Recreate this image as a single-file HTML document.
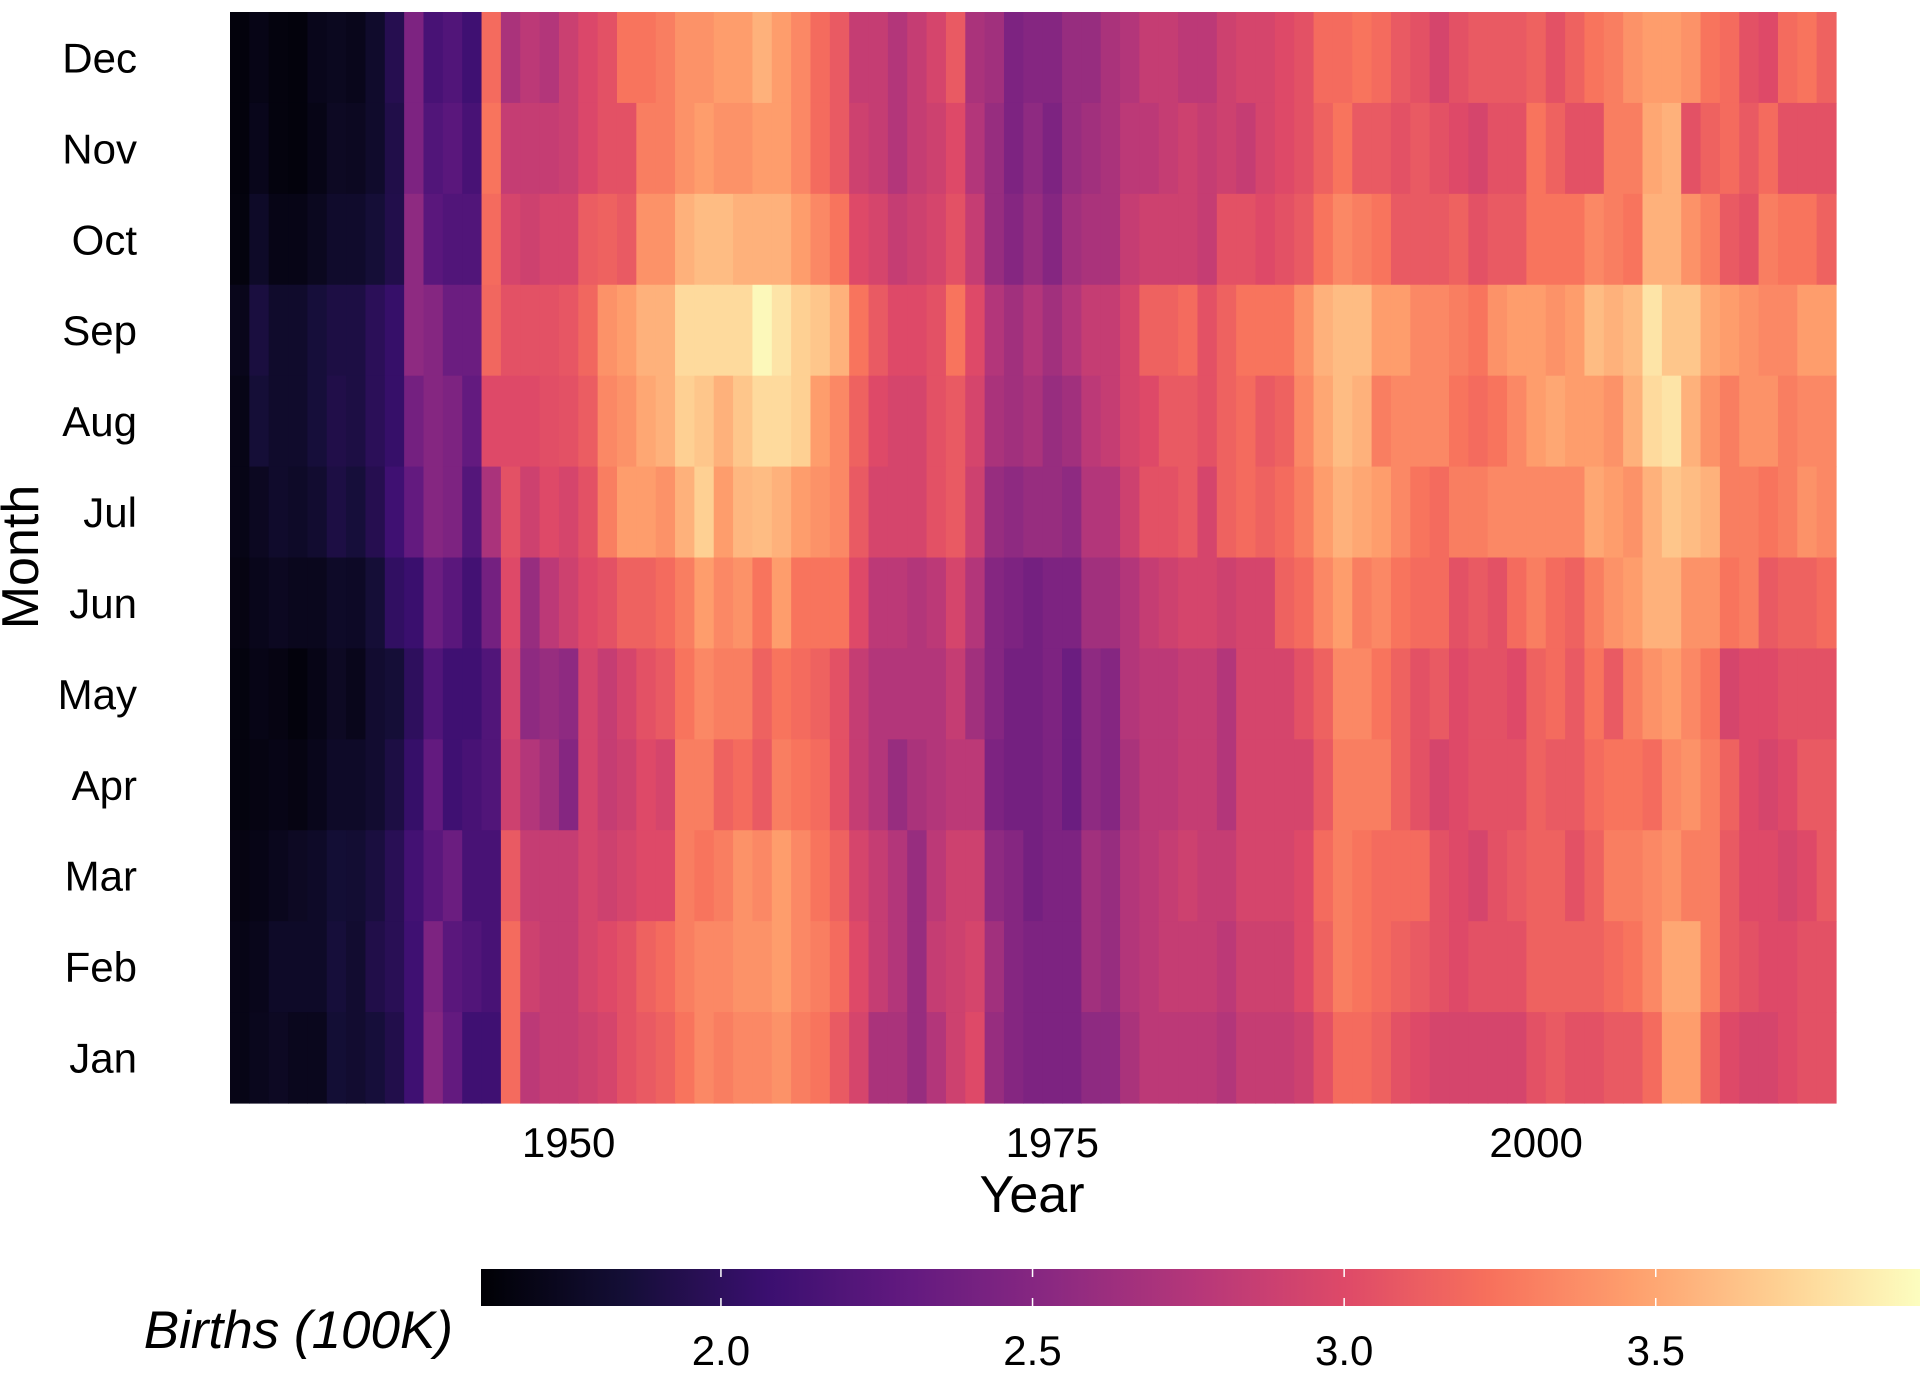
<!DOCTYPE html>
<html><head><meta charset="utf-8">
<style>
html,body{margin:0;padding:0;background:#fff;}
svg{display:block;font-family:"Liberation Sans",Arial,sans-serif;}
</style></head>
<body>
<svg id="chart" width="1920" height="1392" viewBox="0 0 1920 1392">
  <g id="tiles"></g>
  <g id="yticks"></g>
  <g id="xticks"></g>
  <text x="1032" y="1212" font-size="52" text-anchor="middle">Year</text>
  <text transform="translate(38,557) rotate(-90)" font-size="52" text-anchor="middle">Month</text>
  <g>
    <defs><linearGradient id="grad" x1="0" x2="1" y1="0" y2="0"></linearGradient></defs>
    <rect x="481" y="1269" width="1439" height="37" fill="url(#grad)"></rect>
    <g id="cticks"></g>
    <text x="453" y="1348" font-size="53" font-style="italic" text-anchor="end">Births (100K)</text>
  </g>
</svg>
<script>
// Month rows, top to bottom
const monthLabels = ['Dec','Nov','Oct','Sep','Aug','Jul','Jun','May','Apr','Mar','Feb','Jan'];
const firstYear = 1933;
const xTickLabels = [1950, 1975, 2000];
const legendTicks = [2.0, 2.5, 3.0, 3.5];
const legendTickLabels = ['2.0','2.5','3.0','3.5'];
// Births (100K) per year; each inner list in month order Dec..Jan
const births = [
[1.65,1.65,1.66,1.72,1.7,1.7,1.68,1.66,1.66,1.68,1.7,1.7],
[1.7,1.72,1.78,1.88,1.85,1.75,1.72,1.7,1.68,1.7,1.72,1.73],
[1.66,1.66,1.7,1.8,1.8,1.8,1.75,1.68,1.7,1.73,1.78,1.76],
[1.65,1.65,1.7,1.8,1.8,1.78,1.73,1.65,1.68,1.76,1.78,1.73],
[1.72,1.7,1.74,1.86,1.86,1.82,1.73,1.7,1.72,1.78,1.78,1.73],
[1.74,1.76,1.8,1.9,1.92,1.9,1.78,1.76,1.78,1.84,1.86,1.84],
[1.72,1.75,1.8,1.9,1.9,1.86,1.77,1.72,1.78,1.83,1.82,1.82],
[1.8,1.8,1.85,1.98,1.98,1.95,1.85,1.82,1.82,1.88,1.92,1.86],
[1.95,1.92,1.93,2.05,2.05,2.1,2.02,1.85,1.9,1.97,1.97,1.93],
[2.45,2.45,2.55,2.55,2.4,2.3,2.07,2.0,2.05,2.12,2.1,2.1],
[2.15,2.2,2.25,2.5,2.5,2.5,2.35,2.2,2.3,2.25,2.45,2.5],
[2.2,2.25,2.2,2.35,2.45,2.45,2.25,2.1,2.1,2.35,2.25,2.3],
[2.1,2.15,2.2,2.35,2.3,2.22,2.12,2.1,2.15,2.15,2.2,2.1],
[3.2,3.25,3.2,3.18,3.0,2.7,2.4,2.2,2.2,2.15,2.15,2.1],
[2.7,2.85,2.95,3.05,3.0,3.05,3.0,2.95,2.9,3.1,3.2,3.2],
[2.8,2.85,2.9,3.05,3.0,2.9,2.6,2.55,2.75,2.85,2.9,2.8],
[2.75,2.85,2.95,3.05,3.03,3.0,2.8,2.6,2.65,2.85,2.85,2.85],
[2.88,2.88,2.95,3.08,3.05,2.95,2.9,2.55,2.5,2.85,2.85,2.85],
[2.98,2.98,3.12,3.18,3.12,3.05,3.0,2.95,2.95,2.95,2.95,2.9],
[3.05,3.05,3.15,3.4,3.35,3.3,3.05,2.85,2.85,2.9,3.0,2.95],
[3.25,3.05,3.1,3.45,3.4,3.45,3.15,2.95,2.9,2.95,3.05,3.05],
[3.25,3.3,3.4,3.55,3.5,3.45,3.15,3.05,3.0,3.0,3.15,3.1],
[3.3,3.3,3.4,3.55,3.55,3.4,3.2,3.1,2.95,3.0,3.2,3.15],
[3.4,3.4,3.55,3.75,3.7,3.55,3.3,3.25,3.3,3.3,3.3,3.25],
[3.4,3.45,3.6,3.75,3.65,3.7,3.45,3.35,3.3,3.25,3.35,3.35],
[3.45,3.4,3.6,3.75,3.55,3.45,3.35,3.3,3.15,3.3,3.35,3.3],
[3.45,3.4,3.55,3.75,3.65,3.58,3.4,3.3,3.2,3.4,3.4,3.35],
[3.55,3.45,3.55,3.9,3.75,3.6,3.25,3.15,3.1,3.35,3.4,3.35],
[3.45,3.45,3.55,3.8,3.75,3.55,3.45,3.25,3.3,3.45,3.45,3.4],
[3.35,3.35,3.45,3.7,3.7,3.45,3.25,3.2,3.25,3.35,3.35,3.3],
[3.2,3.2,3.35,3.65,3.45,3.4,3.25,3.15,3.2,3.25,3.3,3.25],
[3.1,3.1,3.25,3.55,3.35,3.35,3.25,3.05,3.05,3.15,3.2,3.1],
[2.85,2.9,3.0,3.25,3.15,3.1,3.0,2.85,2.85,2.95,3.0,2.95],
[2.85,2.85,2.95,3.1,3.0,2.95,2.8,2.75,2.75,2.85,2.85,2.7],
[2.75,2.75,2.85,3.0,2.95,2.95,2.8,2.75,2.6,2.75,2.75,2.7],
[2.85,2.85,2.9,3.0,2.95,2.95,2.75,2.75,2.7,2.6,2.6,2.6],
[2.95,2.9,2.95,3.05,3.05,3.05,2.8,2.75,2.75,2.8,2.85,2.75],
[3.1,3.0,3.05,3.25,3.1,3.1,2.95,2.85,2.8,2.9,2.9,2.9],
[2.7,2.75,2.85,3.0,2.95,2.9,2.75,2.65,2.8,2.9,2.95,3.0],
[2.65,2.6,2.6,2.75,2.7,2.6,2.5,2.5,2.45,2.55,2.65,2.6],
[2.45,2.45,2.5,2.65,2.65,2.55,2.45,2.4,2.4,2.5,2.5,2.5],
[2.5,2.55,2.6,2.75,2.7,2.6,2.4,2.4,2.4,2.4,2.45,2.45],
[2.5,2.45,2.5,2.65,2.6,2.6,2.45,2.45,2.45,2.45,2.45,2.45],
[2.6,2.6,2.65,2.75,2.65,2.55,2.45,2.35,2.35,2.45,2.45,2.45],
[2.6,2.65,2.7,2.85,2.8,2.75,2.65,2.55,2.55,2.65,2.65,2.55],
[2.7,2.7,2.7,2.85,2.85,2.75,2.65,2.5,2.5,2.6,2.6,2.55],
[2.75,2.8,2.85,2.95,2.95,2.9,2.75,2.75,2.7,2.75,2.75,2.7],
[2.85,2.8,2.9,3.15,3.0,3.05,2.85,2.8,2.8,2.8,2.8,2.8],
[2.85,2.85,2.9,3.15,3.1,3.05,2.9,2.8,2.8,2.85,2.85,2.8],
[2.8,2.9,2.9,3.2,3.1,3.1,2.95,2.85,2.85,2.9,2.85,2.8],
[2.8,2.85,2.85,3.05,3.05,2.95,2.95,2.85,2.85,2.85,2.85,2.8],
[2.9,2.9,3.05,3.15,3.15,3.15,2.9,2.75,2.75,2.85,2.8,2.75],
[2.95,2.85,3.05,3.25,3.2,3.2,2.95,2.95,2.95,2.95,2.9,2.85],
[2.95,2.95,3.0,3.25,3.1,3.15,2.95,2.95,2.95,2.95,2.9,2.85],
[3.0,3.0,3.05,3.25,3.15,3.2,3.15,2.95,2.95,2.95,2.9,2.85],
[3.05,3.05,3.1,3.4,3.35,3.3,3.2,3.05,2.95,3.0,3.0,2.9],
[3.2,3.15,3.25,3.55,3.5,3.45,3.35,3.15,3.1,3.2,3.15,3.05],
[3.2,3.25,3.35,3.6,3.6,3.55,3.45,3.35,3.3,3.3,3.3,3.2],
[3.25,3.1,3.3,3.6,3.55,3.5,3.3,3.35,3.3,3.25,3.25,3.2],
[3.2,3.1,3.25,3.45,3.3,3.45,3.35,3.25,3.3,3.2,3.2,3.15],
[3.1,3.05,3.1,3.45,3.35,3.35,3.25,3.15,3.15,3.2,3.15,3.05],
[3.05,3.1,3.1,3.35,3.35,3.25,3.2,3.05,3.05,3.2,3.1,3.0],
[2.95,3.05,3.1,3.35,3.35,3.2,3.2,3.1,2.95,3.05,3.05,2.95],
[3.05,3.0,3.15,3.3,3.25,3.3,3.05,3.0,3.0,3.0,3.0,2.95],
[3.1,2.95,3.05,3.25,3.2,3.3,3.1,3.05,3.05,2.95,3.05,2.95],
[3.1,3.05,3.1,3.4,3.25,3.35,3.05,3.05,3.05,3.05,3.05,2.95],
[3.1,3.05,3.1,3.45,3.35,3.35,3.2,3.0,3.05,3.1,3.05,2.95],
[3.15,3.25,3.25,3.45,3.45,3.35,3.3,3.15,3.15,3.15,3.15,3.05],
[3.05,3.15,3.25,3.4,3.5,3.35,3.2,3.2,3.1,3.15,3.15,3.1],
[3.15,3.05,3.25,3.45,3.45,3.35,3.15,3.1,3.1,3.05,3.15,3.05],
[3.25,3.05,3.35,3.6,3.45,3.5,3.3,3.25,3.2,3.15,3.15,3.05],
[3.3,3.3,3.3,3.55,3.4,3.45,3.4,3.1,3.25,3.3,3.2,3.1],
[3.4,3.3,3.25,3.6,3.55,3.4,3.45,3.3,3.25,3.3,3.25,3.1],
[3.45,3.5,3.55,3.8,3.75,3.55,3.55,3.4,3.2,3.35,3.35,3.2],
[3.45,3.55,3.55,3.65,3.8,3.65,3.55,3.45,3.35,3.4,3.5,3.45],
[3.4,3.05,3.4,3.65,3.55,3.6,3.4,3.35,3.4,3.3,3.5,3.45],
[3.25,3.15,3.3,3.5,3.4,3.55,3.4,3.25,3.3,3.3,3.3,3.15],
[3.2,3.2,3.1,3.45,3.3,3.3,3.25,2.95,3.15,3.1,3.1,3.0],
[3.05,3.1,3.05,3.4,3.4,3.3,3.3,3.0,3.0,3.0,3.05,2.95],
[3.0,3.2,3.3,3.35,3.4,3.25,3.1,3.0,2.95,3.0,3.0,2.95],
[3.2,3.05,3.25,3.35,3.3,3.3,3.15,3.05,3.0,2.95,3.0,3.0],
[3.25,3.05,3.25,3.45,3.35,3.4,3.15,3.05,3.1,3.0,3.05,3.05],
[3.15,3.05,3.15,3.45,3.35,3.35,3.2,3.05,3.1,3.1,3.05,3.05]
];

const NS = 'http://www.w3.org/2000/svg';
const plot = {left:230, top:12, right:1836, bottom:1103};
const nYears = births.length;
const colW = (plot.right - plot.left) / nYears;
const rowH = (plot.bottom - plot.top) / monthLabels.length;
const xScale = yr => plot.left + (yr - firstYear + 0.5) * colW;
const yScale = i => plot.top + i * rowH;
const vMin = 1.615, vMax = 3.924;
const legend = {left:481, right:1920};
const legendScale = v => legend.left + (v - vMin) / (vMax - vMin) * (legend.right - legend.left);

const magmaStops = ['#000004','#140e36','#3b0f70','#641a80','#8c2981','#b73779','#de4968','#f7705c','#fe9f6d','#fecf92','#fcfdbf'];
function hex2rgb(h){return [1,3,5].map(i=>parseInt(h.substr(i,2),16));}
function magma(t){
  t = Math.max(0, Math.min(1, t));
  const p = t * (magmaStops.length - 1);
  const i = Math.min(Math.floor(p), magmaStops.length - 2);
  const f = p - i;
  const a = hex2rgb(magmaStops[i]), b = hex2rgb(magmaStops[i+1]);
  return 'rgb(' + a.map((c,k)=>Math.round(c + (b[k]-c)*f)).join(',') + ')';
}
const color = v => magma((v - vMin) / (vMax - vMin));

const tiles = document.getElementById('tiles');
births.forEach((col, yi) => {
  const yr = firstYear + yi;
  col.forEach((v, mi) => {
    const r = document.createElementNS(NS, 'rect');
    r.setAttribute('x', (xScale(yr) - colW/2).toFixed(2));
    r.setAttribute('y', yScale(mi).toFixed(2));
    r.setAttribute('width', (colW + 0.6).toFixed(2));
    r.setAttribute('height', (rowH + 0.6).toFixed(2));
    r.setAttribute('fill', color(v));
    
    
    tiles.appendChild(r);
  });
});

const yt = document.getElementById('yticks');
monthLabels.forEach((m, i) => {
  const t = document.createElementNS(NS, 'text');
  t.setAttribute('x', 137);
  t.setAttribute('y', (yScale(i) + rowH/2 + 15).toFixed(1));
  t.setAttribute('font-size', '42');
  t.setAttribute('text-anchor', 'end');
  t.textContent = m;
  
  
  yt.appendChild(t);
});

const xt = document.getElementById('xticks');
xTickLabels.forEach(yr => {
  const t = document.createElementNS(NS, 'text');
  t.setAttribute('x', xScale(yr).toFixed(1));
  t.setAttribute('y', 1157);
  t.setAttribute('font-size', '42');
  t.setAttribute('text-anchor', 'middle');
  t.textContent = yr;
  
  
  xt.appendChild(t);
});

const grad = document.getElementById('grad');
for (let i = 0; i <= 40; i++) {
  const s = document.createElementNS(NS, 'stop');
  s.setAttribute('offset', (i/40));
  s.setAttribute('stop-color', magma(i/40));
  grad.appendChild(s);
}
const ct = document.getElementById('cticks');
legendTicks.forEach((v, i) => {
  const x = legendScale(v);
  [[1269,1277],[1298,1306]].forEach(([a,b]) => {
    const l = document.createElementNS(NS, 'line');
    l.setAttribute('x1', x); l.setAttribute('x2', x);
    l.setAttribute('y1', a); l.setAttribute('y2', b);
    l.setAttribute('stroke', '#fff'); l.setAttribute('stroke-width', '1.5');
    
    
    ct.appendChild(l);
  });
  const t = document.createElementNS(NS, 'text');
  t.setAttribute('x', x.toFixed(1));
  t.setAttribute('y', 1365);
  t.setAttribute('font-size', '42');
  t.setAttribute('text-anchor', 'middle');
  t.textContent = legendTickLabels[i];
  
  
  ct.appendChild(t);
});
</script>
</body></html>
